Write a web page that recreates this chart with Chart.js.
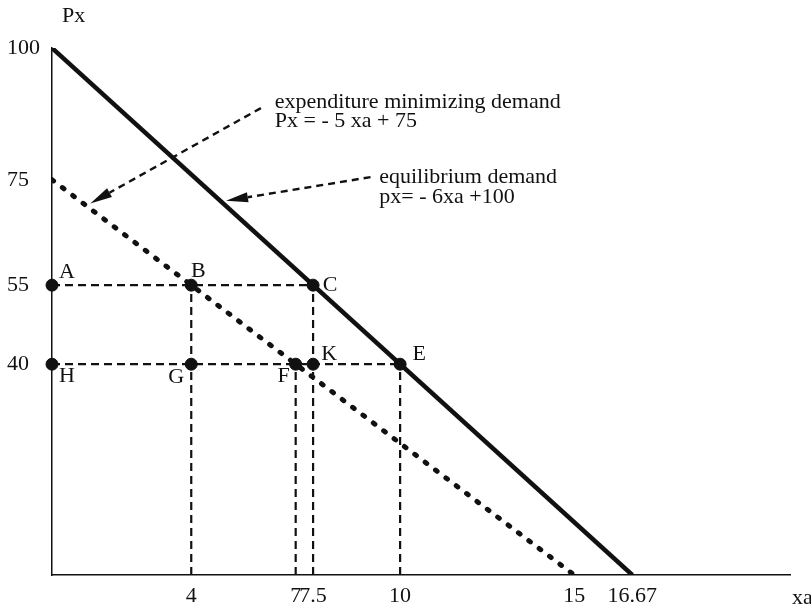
<!DOCTYPE html>
<html>
<head>
<meta charset="utf-8">
<script src="https://cdn.jsdelivr.net/npm/chart.js@4"></script>
<style>
  html, body { margin: 0; padding: 0; background: #fff; }
  #wrap { width: 811px; height: 610px; }
</style>
</head>
<body>
<div id="wrap"><canvas id="demandChart"></canvas></div>
<script>
// ----------------------------
// Data
// ----------------------------
const equilibriumX = [0, 16.67];
const equilibriumY = [100, 0];
const expenditureX = [0, 15];
const expenditureY = [75, 0];

const pointNames = ["A", "B", "C", "H", "G", "F", "K", "E"];
const pointX = [0, 4, 7.5, 0, 4, 7, 7.5, 10];
const pointY = [55, 55, 55, 40, 40, 40, 40, 40];

const xTicks = [4, 7, 7.5, 10, 15, 16.67];
const xTickLabels = ["4", "7", "7.5", "10", "15", "16.67"];
const yTicks = [40, 55, 75, 100];
const yTickLabels = ["40", "55", "75", "100"];

// ----------------------------
// Styling
// ----------------------------
const INK = "#111";
const FONT_FAMILY = "'Liberation Serif', 'DejaVu Serif', serif";
const FONT_SIZE = 22;

// label offsets (pixels) for the lettered points
const pointLabelOffsets = [[15, -13], [7, -14], [17, 0], [15, 12], [-15, 13], [-12, 12], [16, -10], [19, -10]];

// text notes and arrows, placed in data units
const notes = [
    { text: "expenditure minimizing demand", x: 6.4, y: 89.8 },
    { text: "Px = - 5 xa + 75", x: 6.4, y: 86.1 },
    { text: "equilibrium demand", x: 9.4, y: 75.4 },
    { text: "px= - 6xa +100", x: 9.4, y: 71.6 }
];
const arrows = [
    { from: [6.0, 88.6], to: [1.1, 70.5] },
    { from: [9.15, 75.5], to: [5.0, 71.0] }
];

function pairs(xs, ys) {
    return xs.map((v, i) => ({ x: v, y: ys[i] }));
}

// guide lines: drop lines from B, C, F, E and the two price levels
const guides = [];
[1, 2, 5, 7].forEach(i => {
    guides.push([{ x: pointX[i], y: 0 }, { x: pointX[i], y: pointY[i] }]);
});
guides.push([{ x: pointX[0], y: pointY[0] }, { x: pointX[2], y: pointY[2] }]);
guides.push([{ x: pointX[3], y: pointY[3] }, { x: pointX[7], y: pointY[7] }]);

const datasets = [
    {
        label: "points",
        data: pairs(pointX, pointY),
        showLine: false,
        clip: false,
        pointRadius: 6,
        pointBackgroundColor: INK,
        pointBorderColor: INK
    },
    {
        label: "equilibrium demand",
        data: pairs(equilibriumX, equilibriumY),
        showLine: true,
        borderColor: INK,
        borderWidth: 4.5,
        pointRadius: 0
    },
    {
        label: "expenditure minimizing demand",
        data: pairs(expenditureX, expenditureY),
        showLine: true,
        borderColor: INK,
        borderWidth: 5,
        borderDash: [2, 11],
        borderCapStyle: "round",
        pointRadius: 0
    }
];
guides.forEach(g => {
    datasets.push({
        label: "guide",
        data: g,
        showLine: true,
        borderColor: INK,
        borderWidth: 2.2,
        borderDash: [8, 5],
        pointRadius: 0
    });
});

// ----------------------------
// Drawing of labels, notes and arrows
// ----------------------------
const annotationPlugin = {
    id: "annotations",
    afterDatasetsDraw(chart) {
        const { ctx, scales: { x, y }, chartArea } = chart;
        ctx.save();
        ctx.font = FONT_SIZE + "px " + FONT_FAMILY;
        ctx.fillStyle = INK;
        ctx.textBaseline = "middle";

        // point letters
        ctx.textAlign = "center";
        pointNames.forEach((name, i) => {
            const off = pointLabelOffsets[i];
            ctx.fillText(name, x.getPixelForValue(pointX[i]) + off[0], y.getPixelForValue(pointY[i]) + off[1]);
        });

        // notes
        ctx.textAlign = "left";
        notes.forEach(n => {
            ctx.fillText(n.text, x.getPixelForValue(n.x), y.getPixelForValue(n.y));
        });

        // axis names
        ctx.fillText("Px", chartArea.left + 10, 16);
        ctx.fillText("xa", chartArea.right + 2, chartArea.bottom + 23);

        // arrows
        ctx.strokeStyle = INK;
        arrows.forEach(a => {
            const x0 = x.getPixelForValue(a.from[0]), y0 = y.getPixelForValue(a.from[1]);
            const x1 = x.getPixelForValue(a.to[0]), y1 = y.getPixelForValue(a.to[1]);
            const ang = Math.atan2(y1 - y0, x1 - x0);
            const headLen = 22, headHalf = 5;
            const bx = x1 - headLen * Math.cos(ang), by = y1 - headLen * Math.sin(ang);
            ctx.setLineDash([7, 5]);
            ctx.lineWidth = 2.4;
            ctx.beginPath();
            ctx.moveTo(x0, y0);
            ctx.lineTo(bx, by);
            ctx.stroke();
            ctx.setLineDash([]);
            ctx.beginPath();
            ctx.moveTo(x1, y1);
            ctx.lineTo(bx + headHalf * Math.sin(ang), by - headHalf * Math.cos(ang));
            ctx.lineTo(bx - headHalf * Math.sin(ang), by + headHalf * Math.cos(ang));
            ctx.closePath();
            ctx.fill();
        });
        ctx.restore();
    }
};

// ----------------------------
// Chart
// ----------------------------
const ctx = document.getElementById("demandChart").getContext("2d");

new Chart(ctx, {
    type: "scatter",
    data: { datasets: datasets },
    options: {
        responsive: true,
        maintainAspectRatio: false,
        animation: false,
        layout: { padding: { left: 7, right: 21, top: 48, bottom: 0 } },
        plugins: {
            legend: { display: false },
            tooltip: { enabled: false }
        },
        scales: {
            x: {
                type: "linear",
                min: 0,
                max: 21.2,
                grid: { display: false, drawTicks: false },
                border: { display: true, color: INK, width: 1.5 },
                afterBuildTicks: s => { s.ticks = xTicks.map(v => ({ value: v })); },
                afterFit: s => { s.height = 35; },
                ticks: {
                    autoSkip: false,
                    maxRotation: 0,
                    padding: 8,
                    color: INK,
                    font: { family: FONT_FAMILY, size: FONT_SIZE },
                    callback: (v, i) => xTickLabels[i]
                }
            },
            y: {
                type: "linear",
                min: 0,
                max: 100,
                grid: { display: false, drawTicks: false },
                border: { display: true, color: INK, width: 1.5 },
                afterBuildTicks: s => { s.ticks = yTicks.map(v => ({ value: v })); },
                afterFit: s => { s.width = 45; },
                ticks: {
                    autoSkip: false,
                    crossAlign: "far",
                    color: INK,
                    font: { family: FONT_FAMILY, size: FONT_SIZE },
                    callback: (v, i) => yTickLabels[i]
                }
            }
        }
    },
    plugins: [annotationPlugin]
});
</script>
</body>
</html>
